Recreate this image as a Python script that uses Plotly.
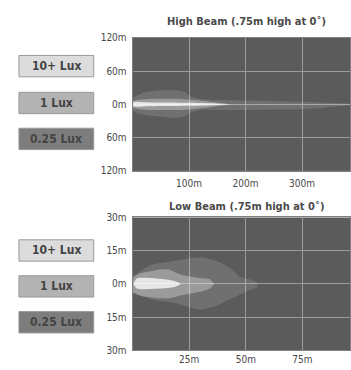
import plotly.graph_objects as go

W, H = 351, 370

# ---- Data (metres) ----
legend_labels = ["10+ Lux", "1 Lux", "0.25 Lux"]
titles = ["High Beam (.75m high at 0˚)", "Low Beam (.75m high at 0˚)"]

# High beam isolux contours: x distance, top / bottom lateral extent
hb_low_x = [0, 10, 21, 48, 83, 95, 100, 118, 160, 206, 250, 295, 330, 365, 385]
hb_low_top = [12, 17, 22, 25, 25, 21, 16, 10, 8, 7, 6, 5, 4, 2, 1]
hb_low_bot = [-12, -16, -19, -22, -24, -20, -16, -10, -10, -10, -9, -9, -7, -3, -1]

hb_mid_x = [0, 15, 30, 83, 110, 136, 160, 175]
hb_mid_top = [6, 9, 10, 10, 8, 5, 2, 0]
hb_mid_bot = [-6, -9, -10, -10, -8, -5, -2, 0]

hb_hi_x = [0, 5, 20, 60, 100, 140, 171]
hb_hi_top = [3, 5, 4, 3.5, 3, 2, 0]
hb_hi_bot = [-3, -4, -3.5, -3, -2.5, -1.5, 0]

# Low beam isolux contours
lb_low_x = [0, 8, 18, 30, 38, 44, 47, 52, 55]
lb_low_top = [3.5, 8.6, 10.3, 12, 10, 6.5, 3.4, 2, 0.5]
lb_low_bot = [-3.9, -6.9, -8.5, -11.6, -9.5, -6.5, -5, -2.5, -1.5]

lb_mid_x = [0, 3, 7.5, 12, 16, 18, 21, 30, 34, 36]
lb_mid_top = [2.6, 4.7, 5.6, 6.5, 6.5, 5.6, 4.3, 2.6, 2.2, 0]
lb_mid_bot = [-3.9, -5.2, -6.0, -6.5, -6.5, -6.0, -5.2, -3.5, -2.2, 0]

lb_hi_x = [0.5, 2, 10, 18, 21]
lb_hi_top = [0.5, 2.6, 2.6, 1.5, 0.3]
lb_hi_bot = [-0.5, -2.2, -2.2, -1.5, -0.3]

hb_xticks = [100, 200, 300]
hb_yticks = [-120, -60, 0, 60, 120]
lb_xticks = [25, 50, 75]
lb_yticks = [-30, -15, 0, 15, 30]

def mlabel(v):
    return f"{abs(v)}m"

BG = "#5b5b5b"
FILLS = ["rgba(255,255,255,0.75)", "rgba(255,255,255,0.30)", "rgba(255,255,255,0.13)"]
BOX_FILLS = ["#dcdcdc", "#b3b3b3", "#7d7d7d"]
FONT = "DejaVu Sans Condensed"

fig = go.Figure()

def add_region(x, top, bot, color, xa, ya):
    px = list(x) + list(reversed(x))
    py_ = list(top) + list(reversed(bot))
    fig.add_trace(go.Scatter(
        x=px, y=py_, fill="toself", fillcolor=color, mode="lines",
        line=dict(width=0, shape="spline", smoothing=0.6),
        xaxis=xa, yaxis=ya, hoverinfo="skip", showlegend=False))

add_region(hb_low_x, hb_low_top, hb_low_bot, FILLS[2], "x", "y")
add_region(hb_mid_x, hb_mid_top, hb_mid_bot, FILLS[1], "x", "y")
add_region(hb_hi_x, hb_hi_top, hb_hi_bot, FILLS[0], "x", "y")
add_region(lb_low_x, lb_low_top, lb_low_bot, FILLS[2], "x2", "y2")
add_region(lb_mid_x, lb_mid_top, lb_mid_bot, FILLS[1], "x2", "y2")
add_region(lb_hi_x, lb_hi_top, lb_hi_bot, FILLS[0], "x2", "y2")

x0p = 133 / W
def py(p):
    return 1 - p / H

axis_common = dict(showgrid=True, gridcolor="#9c9c9c", gridwidth=1, zeroline=False,
                   ticks="", showline=True, linecolor="#808080", linewidth=1, mirror=True,
                   tickfont=dict(family=FONT, size=10, color="#474747"), fixedrange=True)

fig.update_layout(
    width=W, height=H, margin=dict(l=0, r=0, t=0, b=0),
    paper_bgcolor="white", plot_bgcolor=BG, showlegend=False,
    xaxis=dict(domain=[x0p, 1], range=[0, 385], tickvals=hb_xticks,
               ticktext=[mlabel(v) for v in hb_xticks], anchor="y",
               ticklabelstandoff=3, **axis_common),
    yaxis=dict(domain=[py(171), py(34)], range=[-120, 120], tickvals=hb_yticks,
               ticktext=[mlabel(v) for v in hb_yticks], anchor="x",
               ticklabelstandoff=3, **axis_common),
    xaxis2=dict(domain=[x0p, 1], range=[0, 96], tickvals=lb_xticks,
                ticktext=[mlabel(v) for v in lb_xticks], anchor="y2",
                ticklabelstandoff=0, **axis_common),
    yaxis2=dict(domain=[py(356), py(219)], range=[-30, 30], tickvals=lb_yticks,
                ticktext=[mlabel(v) for v in lb_yticks], anchor="x2",
                ticklabelstandoff=3, **axis_common),
)

# Titles
for t, yp in zip(titles, [17, 208]):
    fig.add_annotation(text=f"<b>{t}</b>", x=247 / W, y=py(yp), xref="paper", yref="paper",
                       showarrow=False, font=dict(family=FONT, size=11, color="#4a4a4a"),
                       xanchor="center", yanchor="middle")

# Legend boxes
box_tops = [[52, 90, 127], [242, 279, 316]]
for tops in box_tops:
    for lbl, fillc, top in zip(legend_labels, BOX_FILLS, tops):
        fig.add_shape(type="rect", xref="paper", yref="paper",
                      x0=19 / W, x1=94 / W, y0=py(top + 22), y1=py(top),
                      fillcolor=fillc, line=dict(color="#9a9a9a", width=1))
        fig.add_annotation(text=f"<b>{lbl}</b>", x=56.5 / W, y=py(top + 11),
                           xref="paper", yref="paper", showarrow=False,
                           font=dict(family=FONT, size=12, color="#444444"),
                           xanchor="center", yanchor="middle")

fig.write_html("out.html", config={"displayModeBar": False},
               post_script="document.body.style.margin='0';document.body.style.overflow='hidden';")
